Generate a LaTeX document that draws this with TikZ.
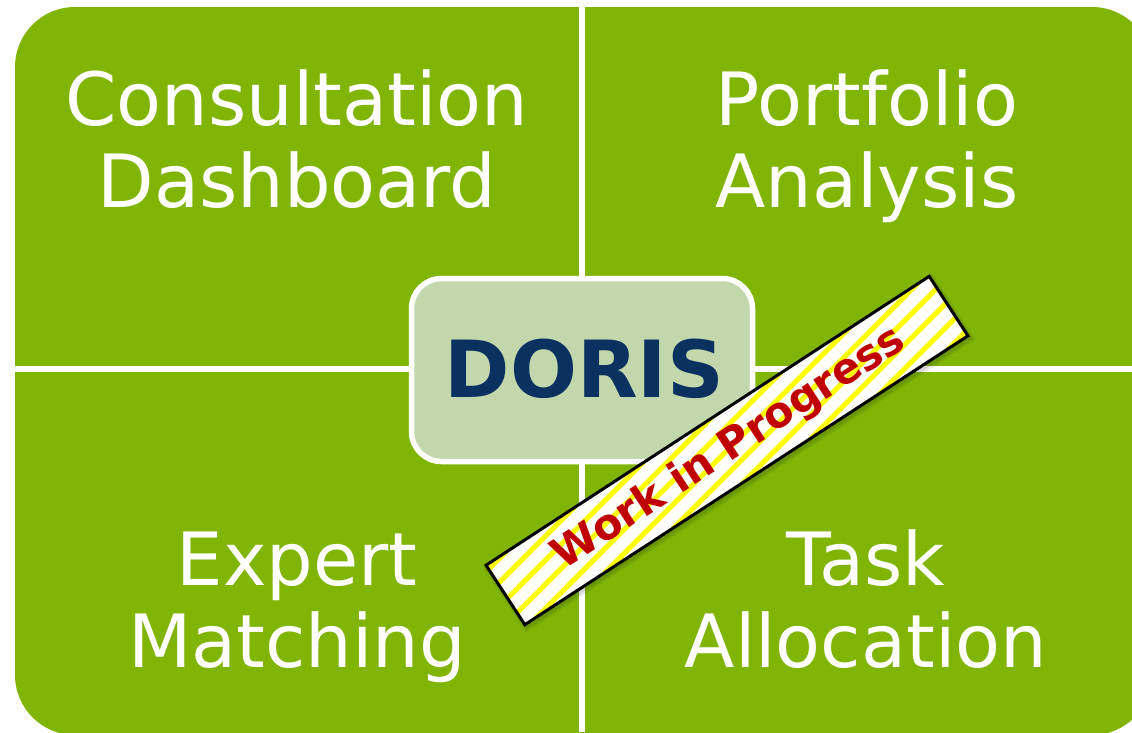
\documentclass[tikz,border=0pt]{standalone}
\usepackage{fontspec}
\setmainfont{DejaVu Sans}
\definecolor{leaf}{HTML}{80B505}
\definecolor{hubfill}{HTML}{C2D8AC}
\definecolor{navy}{HTML}{0B3160}
\definecolor{wipred}{HTML}{C00000}
\definecolor{wipyellow}{HTML}{FFFF00}
\tikzset{
  quadlabel/.style={text=white,font=\fontsize{73.5}{82}\selectfont,align=center,inner sep=0pt,anchor=base},
  divider/.style={draw=white,line width=6pt},
  hubbox/.style={draw=white,line width=5.5pt,fill=hubfill,rounded corners=30pt,minimum width=341pt,minimum height=183pt,inner sep=0pt,
     text=navy,font=\bfseries\fontsize{78.8}{85}\selectfont},
  banner/.style={draw=black,line width=3pt,fill=white,minimum width=529pt,minimum height=71pt,inner sep=0pt,rotate=33.1,
     text=wipred,font=\bfseries\fontsize{42.5}{50}\selectfont},
  bannershade/.style={fill=black,opacity=.06,minimum width=529pt+#1,minimum height=71pt+#1,inner sep=0pt,rotate=33.1},
}
\begin{document}
\begin{tikzpicture}[x=1pt,y=-1pt]
\useasboundingbox (0,0) rectangle (1132,732);
\clip (0,0) rectangle (1132,732);
\fill[leaf,rounded corners=60pt] (15,7) rectangle (1152,735);
\coordinate (ntop) at (582,0);
\coordinate (nbot) at (582,732);
\coordinate (nleft) at (15,369);
\coordinate (nright) at (1132,369);
\draw[divider] (ntop) -- (nbot);
\draw[divider] (nleft) -- (nright);
\node[hubbox] (hub) at (582,370) {\raisebox{3pt}{\hspace{5pt}DORIS}};
\node[quadlabel] (consult) at (297,207) {Consultation\\Dashboard};
\node[quadlabel] (portfolio) at (867,207) {Portfolio\\Analysis};
\node[quadlabel] (expert) at (297,667) {Expert\\Matching};
\node[quadlabel] (task) at (866,667) {Task\\Allocation};
\foreach \s in {2,5,8}{\node[bannershade=\s pt] at (729,453) {};}
\node[banner,path picture={
  \foreach \k in {-6,...,6}{
    \draw[wipyellow,line width=5pt] ([xshift=\k*82pt-170pt,yshift=-36pt]path picture bounding box.center) -- ([xshift=\k*82pt+170pt,yshift=36pt]path picture bounding box.center);
  }}] (wip) at (727,450.5) {\hspace{6pt}Work in Progress};
\end{tikzpicture}
\end{document}
